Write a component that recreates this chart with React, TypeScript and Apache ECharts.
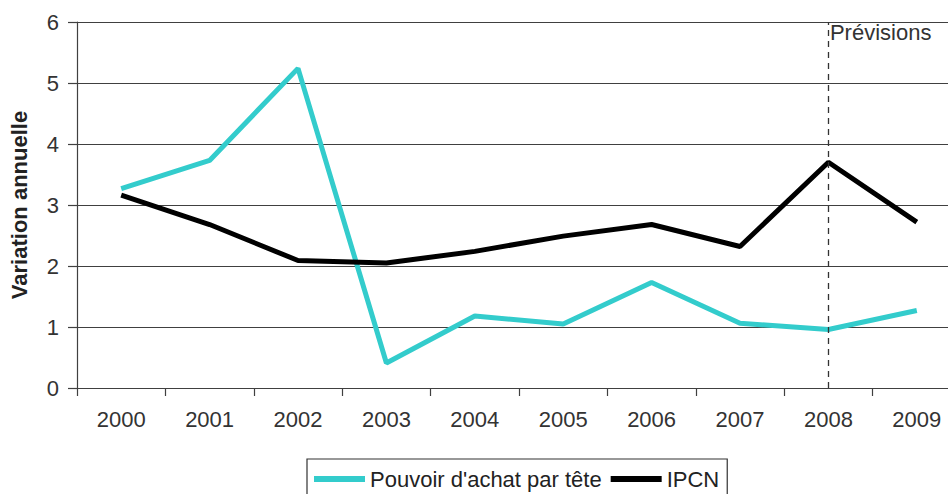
import React, { useEffect, useRef } from "react";
import * as echarts from "echarts";

const years = ["2000", "2001", "2002", "2003", "2004", "2005", "2006", "2007", "2008", "2009"];
const pouvoirAchat = [3.27, 3.73, 5.24, 0.41, 1.18, 1.05, 1.73, 1.06, 0.96, 1.27];
const ipcn = [3.16, 2.68, 2.09, 2.05, 2.24, 2.49, 2.68, 2.32, 3.7, 2.72];
const forecastStart = "2008";
const forecastLabel = "Prévisions";
const yTitle = "Variation annuelle";

const FONT = "'Liberation Sans', Arial, sans-serif";

export default function App() {
  const ref = useRef<HTMLDivElement>(null);
  useEffect(() => {
    if (!ref.current) return;
    const chart = echarts.init(ref.current, undefined, { renderer: "svg" });
    chart.setOption({
      animation: false,
      backgroundColor: "#ffffff",
      textStyle: { fontFamily: FONT },
      grid: {
        left: 77,
        top: 22,
        right: -13,
        bottom: 106,
        containLabel: false,
        outerBoundsMode: "none",
      },
      xAxis: {
        type: "category",
        data: years,
        boundaryGap: true,
        axisLine: { show: true, lineStyle: { color: "#404040", width: 1.2 } },
        axisTick: { show: true, interval: 0, length: 8, lineStyle: { color: "#404040", width: 1.2 } },
        axisLabel: { color: "#333", fontSize: 22, margin: 20, fontFamily: FONT, interval: 0 },
        splitLine: { show: false },
      },
      yAxis: {
        type: "value",
        min: 0,
        max: 6,
        interval: 1,
        name: yTitle,
        nameLocation: "middle",
        nameRotate: 90,
        nameGap: 47,
        nameTextStyle: { fontSize: 22, fontWeight: "bold", color: "#222", fontFamily: FONT },
        axisLine: { show: true, lineStyle: { color: "#404040", width: 1.2 } },
        axisTick: { show: true, length: 9, lineStyle: { color: "#404040", width: 1.2 } },
        axisLabel: { color: "#333", fontSize: 22, margin: 18, fontFamily: FONT },
        splitLine: { show: true, lineStyle: { color: "#404040", width: 1.2 } },
      },
      legend: {
        left: 307,
        top: 459,
        orient: "horizontal",
        borderColor: "#333",
        borderWidth: 1.2,
        padding: [9, 8, 30, 7],
        itemGap: 9,
        itemWidth: 51,
        itemHeight: 6,
        textStyle: { fontSize: 22, color: "#222", fontFamily: FONT },
        data: [
          { name: "Pouvoir d'achat par tête", icon: "rect" },
          { name: "IPCN", icon: "rect" },
        ],
      },
      series: [
        {
          name: "Pouvoir d'achat par tête",
          type: "line",
          data: pouvoirAchat,
          showSymbol: false,
          symbol: "none",
          color: "#33cccc",
          lineStyle: { width: 5, color: "#33cccc" },
          z: 3,
          markLine: {
            silent: true,
            symbol: "none",
            lineStyle: { type: [6, 5], color: "#333", width: 1.3 },
            label: { show: false },
            data: [[{ coord: [forecastStart, 0] }, { coord: [forecastStart, 6] }]],
          },
          markPoint: {
            silent: true,
            symbol: "circle",
            symbolSize: 1,
            itemStyle: { color: "transparent" },
            label: {
              show: true,
              position: "right",
              distance: 1,
              offset: [0, 10],
              formatter: forecastLabel,
              fontSize: 22,
              color: "#333",
              fontFamily: FONT,
            },
            data: [{ coord: [forecastStart, 6] }],
          },
        },
        {
          name: "IPCN",
          type: "line",
          data: ipcn,
          showSymbol: false,
          symbol: "none",
          color: "#000000",
          lineStyle: { width: 5, color: "#000000" },
          z: 4,
        },
      ],
    });
    return () => chart.dispose();
  }, []);
  return (
    <div
      ref={ref}
      style={{ position: "fixed", left: 0, top: 0, width: 948, height: 494, background: "#fff" }}
    />
  );
}
